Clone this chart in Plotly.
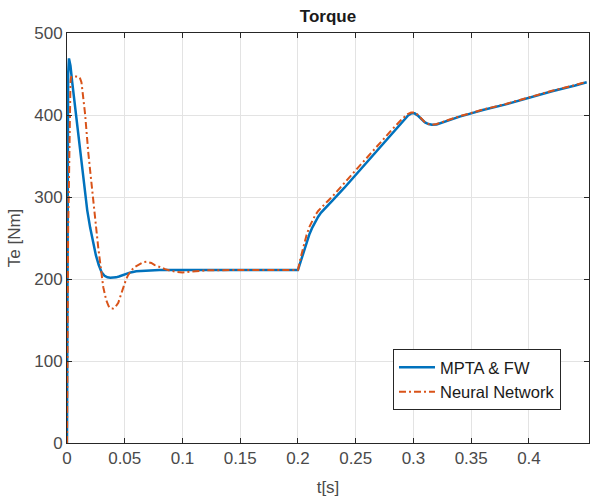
import plotly.graph_objects as go

# ---- data ----
t_mpta = [0, 0.0003, 0.0006, 0.001, 0.0017, 0.003, 0.0045, 0.006, 0.008, 0.010,
          0.0125, 0.015, 0.0175, 0.02, 0.0225, 0.025, 0.0275, 0.03, 0.0325, 0.035,
          0.0375, 0.04, 0.0425, 0.045, 0.05, 0.055, 0.06, 0.07, 0.08, 0.1, 0.15,
          0.2, 0.2025, 0.205, 0.2075, 0.21, 0.2125, 0.215, 0.2175, 0.22, 0.225,
          0.23, 0.24, 0.25, 0.26, 0.27, 0.28, 0.29, 0.295, 0.298, 0.301, 0.304,
          0.307, 0.31, 0.313, 0.316, 0.32, 0.325, 0.33, 0.34, 0.35, 0.36, 0.38,
          0.4, 0.42, 0.44, 0.45]
te_mpta = [0, 150, 350, 450, 469, 460, 440, 422, 396, 370,
           338, 310, 284, 263, 245, 229, 217, 208, 204, 202,
           201.5, 201.5, 202, 203, 205.5, 208, 209.5, 210.5, 211, 211, 211,
           211, 222, 234, 245, 255, 263, 270, 276, 281, 289,
           296, 311, 327, 343, 360, 376, 392, 399, 402, 402, 399,
           395, 391, 389, 388, 388.5, 391, 393.5, 398, 402, 406, 413,
           421, 429, 436, 440]

t_nn = [0, 0.0003, 0.0006, 0.001, 0.0015, 0.002, 0.0025, 0.003, 0.0035, 0.005,
        0.008, 0.011, 0.0125, 0.014, 0.0156, 0.0185, 0.0228, 0.027, 0.0314, 0.034,
        0.036, 0.038, 0.04, 0.042, 0.0444, 0.0465, 0.0488, 0.051, 0.053, 0.056,
        0.059, 0.063, 0.066, 0.069, 0.073, 0.076, 0.079, 0.085, 0.09, 0.095,
        0.1, 0.105, 0.11, 0.12, 0.15, 0.2, 0.2025, 0.205, 0.2075, 0.21,
        0.2125, 0.215, 0.2175, 0.22, 0.225, 0.23, 0.24, 0.25, 0.26, 0.27,
        0.28, 0.29, 0.295, 0.298, 0.301, 0.304, 0.307, 0.31, 0.313, 0.316,
        0.32, 0.325, 0.33, 0.34, 0.35, 0.36, 0.38, 0.4, 0.42, 0.44, 0.45]
te_nn = [0, 120, 240, 262, 300, 360, 420, 440, 446, 447,
         447, 446, 440, 420, 402, 353, 296, 239, 190, 174,
         167, 164, 164, 166, 171, 180, 190, 199, 205, 211,
         215, 218.5, 220.5, 221, 219.5, 217, 215, 212, 210, 208.5,
         208, 208.5, 209.5, 210.5, 211, 211, 227, 241, 254, 264,
         272, 278, 283, 287, 294, 301, 317, 333, 349, 365,
         380, 395, 401, 403, 403, 400, 395, 391, 389, 388,
         389, 391.5, 394, 398.5, 402.5, 406.5, 413.5, 421.5, 429.5, 436.5, 440.5]

x_ticks = [0, 0.05, 0.1, 0.15, 0.2, 0.25, 0.3, 0.35, 0.4]
x_tick_labels = ["0", "0.05", "0.1", "0.15", "0.2", "0.25", "0.3", "0.35", "0.4"]
y_ticks = [0, 100, 200, 300, 400, 500]

FONT = "Liberation Sans, Arial, Helvetica, sans-serif"
AX = "#262626"
GRID = "#e3e3e3"
TXT = "#4a4a4a"

fig = go.Figure()
fig.add_trace(go.Scatter(x=t_mpta, y=te_mpta, mode="lines", name="MPTA & FW",
                         line=dict(color="#0072BD", width=2.5)))
fig.add_trace(go.Scatter(x=t_nn, y=te_nn, mode="lines", name="Neural Network",
                         line=dict(color="#D95319", width=2, dash="7px,3px,2px,3px")))

axis_common = dict(showline=True, linecolor=AX, linewidth=1, mirror="ticks",
                   ticks="inside", ticklen=5, tickwidth=1, tickcolor=AX,
                   showgrid=True, gridcolor=GRID, gridwidth=1, zeroline=False,
                   tickfont=dict(family=FONT, size=17, color=TXT))

fig.update_xaxes(range=[0, 0.452], tickvals=x_ticks, ticktext=x_tick_labels,
                 title=dict(text="t[s]", font=dict(family=FONT, size=17, color=TXT),
                            standoff=13), **axis_common)
fig.update_yaxes(range=[0, 500], tickvals=y_ticks,
                 title=dict(text="Te [Nm]", font=dict(family=FONT, size=17, color=TXT),
                            standoff=9), **axis_common)

fig.update_layout(
    width=590, height=500,
    margin=dict(l=67, r=1, t=33, b=57),
    paper_bgcolor="white", plot_bgcolor="white",
    title=dict(text="<b>Torque</b>", x=328 / 590, xanchor="center",
               y=1 - (10 / 500), yanchor="top",
               font=dict(family=FONT, size=17, color="#1a1a1a")),
    showlegend=True,
    legend=dict(x=0.6245, y=0.229, xanchor="left", yanchor="top",
                bgcolor="white", bordercolor=AX, borderwidth=1,
                font=dict(family=FONT, size=16.5, color="#1a1a1a"),
                tracegroupgap=0, itemwidth=36),
)

# remove the default 8px page margin so the 590x500 figure fills the window exactly
fig.write_html("out.html", config={"displayModeBar": False},
               post_script="document.body.style.margin='0';document.body.style.overflow='hidden';")
